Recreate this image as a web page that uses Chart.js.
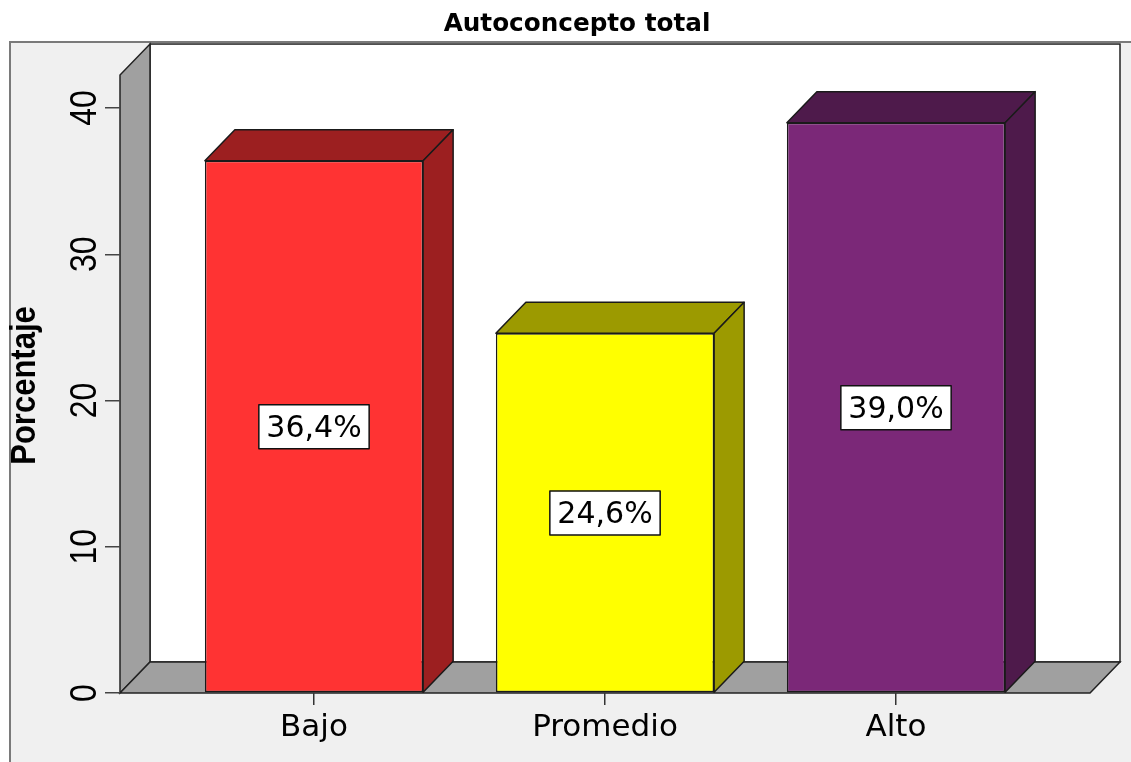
<!DOCTYPE html>
<html><head><meta charset="utf-8">
<script src="https://cdn.jsdelivr.net/npm/chart.js@4.4.1/dist/chart.umd.min.js"></script>
<style>html,body{margin:0;padding:0;background:#fff;} #wrap{width:1131px;height:762px;position:relative;}</style>
</head><body><div id="wrap"><canvas id="c"></canvas></div>
<script>
const chartTitle = 'Autoconcepto total';
const yAxisTitle = 'Porcentaje';
const categories = ['Bajo', 'Promedio', 'Alto'];
const percentages = [36.4, 24.6, 39.0];
const yTickValues = [0, 10, 20, 30, 40];
const frontColors = ['#ff3333', '#ffff00', '#7b2878'];
const shadeColors = ['#9c1f20', '#9c9a00', '#4e1a4b'];

const DX = 30, DY = 31;
const STRETCH = 1.14;

const threeD = {
  id: 'threeD',
  beforeDraw(chart) {
    const {ctx, chartArea: a, width, height} = chart;
    ctx.save();
    ctx.fillStyle = '#ffffff'; ctx.fillRect(0, 0, width, height);
    const fx = a.left - 110, fy = a.top - 66;
    ctx.fillStyle = '#f0f0f0'; ctx.fillRect(fx, fy, width - fx + 5, height - fy + 5);
    ctx.strokeStyle = '#7a7a7a'; ctx.lineWidth = 2;
    ctx.beginPath(); ctx.moveTo(fx, height + 5); ctx.lineTo(fx, fy); ctx.lineTo(width + 5, fy); ctx.stroke();
    const wt = a.top - 64;
    const bx0 = a.left + DX, bx1 = a.right + DX, by1 = a.bottom - DY;
    ctx.fillStyle = '#ffffff'; ctx.fillRect(bx0, wt, bx1 - bx0, by1 - wt);
    ctx.strokeStyle = '#222'; ctx.lineWidth = 1.5;
    ctx.strokeRect(bx0, wt, bx1 - bx0, by1 - wt);
    ctx.fillStyle = '#a0a0a0';
    ctx.beginPath(); ctx.moveTo(a.left, a.bottom); ctx.lineTo(a.left, wt + DY); ctx.lineTo(bx0, wt); ctx.lineTo(bx0, by1); ctx.closePath(); ctx.fill(); ctx.stroke();
    ctx.beginPath(); ctx.moveTo(a.left, a.bottom); ctx.lineTo(bx0, by1); ctx.lineTo(bx1, by1); ctx.lineTo(a.right, a.bottom); ctx.closePath(); ctx.fill(); ctx.stroke();
    ctx.restore();
  },
  afterDatasetsDraw(chart) {
    const {ctx} = chart;
    const meta = chart.getDatasetMeta(0);
    const yScale = chart.scales.y;
    ctx.save();
    ctx.strokeStyle = '#1a1a1a'; ctx.lineWidth = 1.5; ctx.lineJoin = 'round';
    meta.data.forEach((bar, i) => {
      const p = bar.getProps(['x', 'y', 'base', 'width'], true);
      const l = p.x - p.width / 2, r = p.x + p.width / 2, t = p.y, b = p.base;
      ctx.fillStyle = shadeColors[i];
      ctx.beginPath(); ctx.moveTo(l, t); ctx.lineTo(l + DX, t - DY); ctx.lineTo(r + DX, t - DY); ctx.lineTo(r, t); ctx.closePath(); ctx.fill(); ctx.stroke();
      ctx.beginPath(); ctx.moveTo(r, t); ctx.lineTo(r + DX, t - DY); ctx.lineTo(r + DX, b - DY); ctx.lineTo(r, b); ctx.closePath(); ctx.fill(); ctx.stroke();
    });
    ctx.font = '30px "DejaVu Sans"';
    ctx.textAlign = 'center'; ctx.textBaseline = 'middle';
    meta.data.forEach((bar, i) => {
      const v = percentages[i];
      const txt = v.toFixed(1).replace('.', ',') + '%';
      const cy = yScale.getPixelForValue(v / 2);
      const w = ctx.measureText(txt).width + 15;
      const h = 44;
      ctx.fillStyle = '#ffffff';
      ctx.fillRect(bar.x - w / 2, cy - h / 2, w, h);
      ctx.strokeStyle = '#111'; ctx.lineWidth = 1.5;
      ctx.strokeRect(bar.x - w / 2, cy - h / 2, w, h);
      ctx.fillStyle = '#000';
      ctx.fillText(txt, bar.x, cy + 2);
    });
    ctx.restore();
  },
  afterDraw(chart) {
    const {ctx, chartArea: a} = chart;
    const yScale = chart.scales.y;
    ctx.save();
    ctx.fillStyle = '#000';
    ctx.font = '32px "Liberation Sans"';
    ctx.textAlign = 'center'; ctx.textBaseline = 'alphabetic';
    yScale.ticks.forEach(t => {
      const y = yScale.getPixelForValue(t.value);
      ctx.save(); ctx.translate(a.left - 24, y); ctx.scale(STRETCH, 1); ctx.rotate(-Math.PI / 2);
      ctx.fillText(String(t.value), 0, 0); ctx.restore();
    });
    ctx.font = 'bold 31px "Liberation Sans"';
    ctx.save(); ctx.translate(a.left - 85, (yScale.top + yScale.bottom) / 2 - 15); ctx.scale(STRETCH, 1); ctx.rotate(-Math.PI / 2);
    ctx.fillText(yAxisTitle, 0, 0); ctx.restore();
    ctx.restore();
  }
};

Chart.defaults.font.family = 'DejaVu Sans';
new Chart(document.getElementById('c'), {
  type: 'bar',
  data: {
    datasets: [{
      data: categories.map((c, i) => ({x: i, y: percentages[i]})),
      backgroundColor: frontColors,
      borderColor: '#1a1a1a',
      borderWidth: 1.5,
      borderSkipped: false,
      categoryPercentage: 1,
      barPercentage: 0.75
    }]
  },
  options: {
    responsive: true,
    maintainAspectRatio: false,
    animation: false,
    layout: {padding: {left: 64, right: 41, top: 0, bottom: 0}},
    plugins: {
      legend: {display: false},
      tooltip: {enabled: false},
      title: {
        display: true, text: chartTitle, color: '#000',
        font: {family: 'DejaVu Sans', size: 24.7, weight: 'bold'},
        padding: {top: 10, bottom: 68.4}
      }
    },
    scales: {
      x: {
        type: 'linear', min: -2 / 3, max: 8 / 3, offset: false,
        afterBuildTicks: s => { s.ticks = categories.map((_, i) => ({value: i})); },
        afterFit: s => { s.height = 69; },
        grid: {display: true, offset: false, drawOnChartArea: false, drawTicks: true, tickLength: 12, color: '#333', lineWidth: 1.5},
        border: {display: false},
        ticks: {callback: v => categories[v], font: {family: 'DejaVu Sans', size: 31}, color: '#000', padding: 4, maxRotation: 0, autoSkip: false}
      },
      y: {
        type: 'linear', min: 0, max: 40,
        afterBuildTicks: s => { s.ticks = yTickValues.map(v => ({value: v})); },
        afterFit: s => { s.width = 56; },
        grid: {display: true, drawOnChartArea: false, drawTicks: true, tickLength: 15, color: '#444', lineWidth: 1.5},
        border: {display: false},
        ticks: {display: false}
      }
    }
  },
  plugins: [threeD]
});
</script>
</body></html>
